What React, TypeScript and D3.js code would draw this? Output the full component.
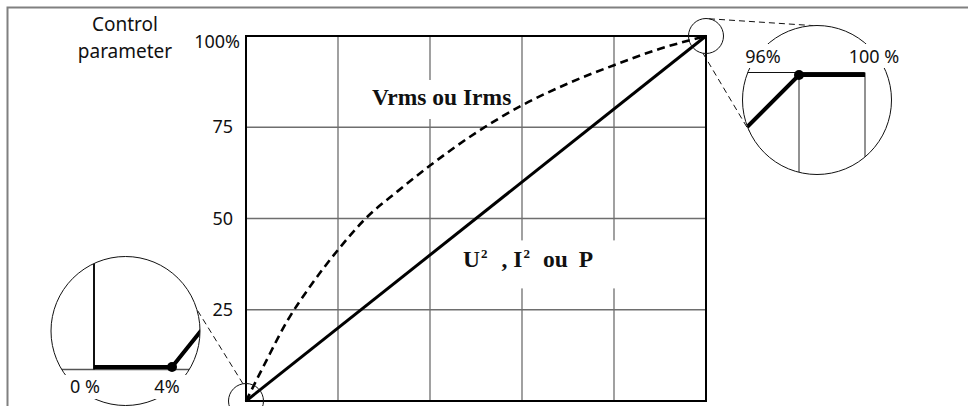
import React from "react";
import * as d3 from "d3";

// grid and axis ticks (percent of control range)
const gridX = [0, 20, 40, 60, 80, 100];
const gridY = [0, 25, 50, 75, 100];
const yTickValues = [25, 50, 75, 100];
const yTickLabels = ["25", "50", "75", "100%"];

// U², I² or P : linear with the control parameter
const powerX = [0, 100];
const powerY = [0, 100];

// Vrms or Irms : dashed curve
const rmsX = [0, 4, 9, 14, 20, 26, 33, 40, 50, 60, 70, 80, 90, 100];
const rmsY = [0, 10, 22, 31.5, 41.4, 50, 57.5, 64.5, 73.5, 81, 87, 92, 96.5, 100];

// control law with dead bands, shown in the two zoom circles
const controlX = [0, 4, 96, 100];
const controlY = [0, 0, 100, 100];
const lowInsetTicks = [0, 4];
const lowInsetLabels = ["0 %", "4%"];
const highInsetTicks = [96, 100];
const highInsetLabels = ["96%", "100 %"];

const SANS = "'Noto Sans', 'Open Sans', sans-serif";
const SERIF = "'Liberation Serif', 'DejaVu Serif', serif";

const W = 968;
const H = 406;

const polar = (c: number[], r: number, deg: number) => {
  const t = (deg * Math.PI) / 180;
  return [c[0] + r * Math.cos(t), c[1] + r * Math.sin(t)];
};

const App = () => {
  const x = d3.scaleLinear().domain([0, 100]).range([246, 706]);
  const y = d3.scaleLinear().domain([0, 100]).range([401, 36]);

  const powerLine = d3
    .line<number>()
    .x((d, i) => x(powerX[i]))
    .y(d => y(d));
  const rmsLine = d3
    .line<number>()
    .x((d, i) => x(rmsX[i]))
    .y(d => y(d))
    .curve(d3.curveMonotoneX);

  // zoom circles
  const R = 74.5;
  const r = 17.5;
  const lowC = [125.5, 331];
  const highC = [817, 100];
  const lx = d3.scaleLinear().domain([0, 4]).range([94, 172]);
  const ly = d3.scaleLinear().domain([0, 1]).range([367, 344.6]);
  const hx = d3.scaleLinear().domain([96, 100]).range([799, 865]);
  const hy = d3.scaleLinear().domain([99, 100]).range([90.2, 75]);

  const lowLine = d3
    .line<number>()
    .x((d, i) => lx(controlX[i]))
    .y(d => ly(d));
  const highLine = d3
    .line<number>()
    .x((d, i) => hx(controlX[i]))
    .y(d => hy(d));

  const origin = [x(0), y(0)];
  const corner = [x(100), y(100)];

  const connectors = [
    [polar(corner, r, -80), polar(highC, R, -93)],
    [polar(corner, r, 100), polar(highC, R, 155)],
    [polar(origin, r, -100), polar(lowC, R, -17)],
  ];

  const gridColor = "#6e6e6e";

  return (
    <svg
      width={W}
      height={H}
      style={{ position: "absolute", left: 0, top: 0, background: "#fff" }}
    >
      <defs>
        <clipPath id="clipLow">
          <circle cx={lowC[0]} cy={lowC[1]} r={R} />
        </clipPath>
        <clipPath id="clipHigh">
          <circle cx={highC[0]} cy={highC[1]} r={R} />
        </clipPath>
      </defs>

      {/* outer frame */}
      <path d={`M${W},7.5H7.5V${H}`} fill="none" stroke="#808080" strokeWidth={2} />

      {/* axis title */}
      <g fontFamily={SANS} fontSize={19} fill="#111" textAnchor="middle">
        <text x={125} y={31}>Control</text>
        <text x={125} y={58}>parameter</text>
      </g>

      {/* gridlines */}
      <g stroke={gridColor} strokeWidth={1.3}>
        {gridX.slice(1, -1).map(v => (
          <line key={"gx" + v} x1={x(v)} x2={x(v)} y1={y(0)} y2={y(100)} />
        ))}
        {gridY.slice(1, -1).map(v => (
          <line key={"gy" + v} x1={x(0)} x2={x(100)} y1={y(v)} y2={y(v)} />
        ))}
      </g>

      {/* y tick labels */}
      <g fontFamily={SANS} fontSize={18} fill="#111" textAnchor="end">
        {yTickValues.map((v, i) => {
          const lab = yTickLabels[i];
          const pct = lab.includes("%");
          return (
            <text key={lab} x={x(0) - (pct ? 6 : 13)} y={pct ? y(v) + 12 : y(v) + 6}>
              {lab}
            </text>
          );
        })}
      </g>

      {/* series labels with white backing */}
      <rect x={x(26)} y={y(80) - 29} width={150} height={39} fill="#fff" />
      <rect x={x(45)} y={y(44)} width={166} height={48} fill="#fff" />
      <g fontFamily={SERIF} fontWeight="bold" fontSize={23.5} fill="#111">
        <text x={x(27.4)} y={y(80) - 4}>Vrms ou Irms</text>
        <text x={x(47.2)} y={y(36.8)}>
          U<tspan fontSize={13} dy={-9} dx={1}>2</tspan>
          <tspan dy={9} dx={14}>, I</tspan>
          <tspan fontSize={13} dy={-9} dx={1}>2</tspan>
          <tspan dy={9} dx={13}>ou</tspan>
          <tspan dx={11}>P</tspan>
        </text>
      </g>

      {/* curves */}
      <path
        d={rmsLine(rmsY) || ""}
        fill="none"
        stroke="#000"
        strokeWidth={2.6}
        strokeDasharray="8 5"
      />
      <path d={powerLine(powerY) || ""} fill="none" stroke="#000" strokeWidth={3} />

      {/* plot border */}
      <rect
        x={x(0)}
        y={y(100)}
        width={x(100) - x(0)}
        height={y(0) - y(100)}
        fill="none"
        stroke="#000"
        strokeWidth={2}
      />

      {/* small circles and connectors */}
      <g fill="none" stroke="#111" strokeWidth={1}>
        <circle cx={origin[0]} cy={origin[1]} r={r} />
        <circle cx={corner[0]} cy={corner[1]} r={r} />
        {connectors.map((c, i) => (
          <line
            key={"cn" + i}
            x1={c[0][0]}
            y1={c[0][1]}
            x2={c[1][0]}
            y2={c[1][1]}
            strokeDasharray="6 4"
          />
        ))}
      </g>

      {/* low zoom circle */}
      <circle cx={lowC[0]} cy={lowC[1]} r={R} fill="#fff" stroke="none" />
      <g clipPath="url(#clipLow)">
        <line
          x1={lowC[0] - R}
          x2={lowC[0] + R}
          y1={ly(0) + 2.5}
          y2={ly(0) + 2.5}
          stroke="#555"
          strokeWidth={1.5}
        />
        <line
          x1={lx(0)}
          x2={lx(0)}
          y1={ly(0) + 2.5}
          y2={lowC[1] - R}
          stroke="#111"
          strokeWidth={2}
        />
        <path d={lowLine(controlY) || ""} fill="none" stroke="#000" strokeWidth={4} />
        <circle cx={lx(4)} cy={ly(0)} r={5} fill="#000" />
      </g>
      <circle cx={lowC[0]} cy={lowC[1]} r={R} fill="none" stroke="#111" strokeWidth={1} />

      {/* high zoom circle */}
      <circle cx={highC[0]} cy={highC[1]} r={R} fill="#fff" stroke="none" />
      <g clipPath="url(#clipHigh)">
        <line
          x1={highC[0] - R}
          x2={hx(100)}
          y1={hy(100) - 2.5}
          y2={hy(100) - 2.5}
          stroke="#111"
          strokeWidth={1.2}
        />
        {highInsetTicks.map(v => (
          <line
            key={"hv" + v}
            x1={hx(v)}
            x2={hx(v)}
            y1={hy(100) - 2.5}
            y2={highC[1] + R}
            stroke={gridColor}
            strokeWidth={1.5}
          />
        ))}
        <path d={highLine(controlY) || ""} fill="none" stroke="#000" strokeWidth={4} />
        <circle cx={hx(96)} cy={hy(100)} r={5} fill="#000" />
      </g>
      <circle cx={highC[0]} cy={highC[1]} r={R} fill="none" stroke="#111" strokeWidth={1} />

      {/* zoom labels */}
      <g fontFamily={SANS} fontSize={18} fill="#111" textAnchor="middle">
        {lowInsetTicks.map((v, i) => {
          const cx = lx(v) + (i === 0 ? -9 : -5);
          return (
            <g key={"ll" + v}>
              <rect x={cx - 20} y={lowC[1] + 44} width={40} height={24} fill="#fff" />
              <text x={cx} y={lowC[1] + 62}>{lowInsetLabels[i]}</text>
            </g>
          );
        })}
        {highInsetTicks.map((v, i) => {
          const cx = hx(v) + (i === 0 ? -36 : 9);
          return (
            <g key={"hl" + v}>
              <rect x={cx - 26} y={highC[1] - 56} width={52} height={24} fill="#fff" />
              <text x={cx} y={highC[1] - 37}>{highInsetLabels[i]}</text>
            </g>
          );
        })}
      </g>
    </svg>
  );
};

export default App;
